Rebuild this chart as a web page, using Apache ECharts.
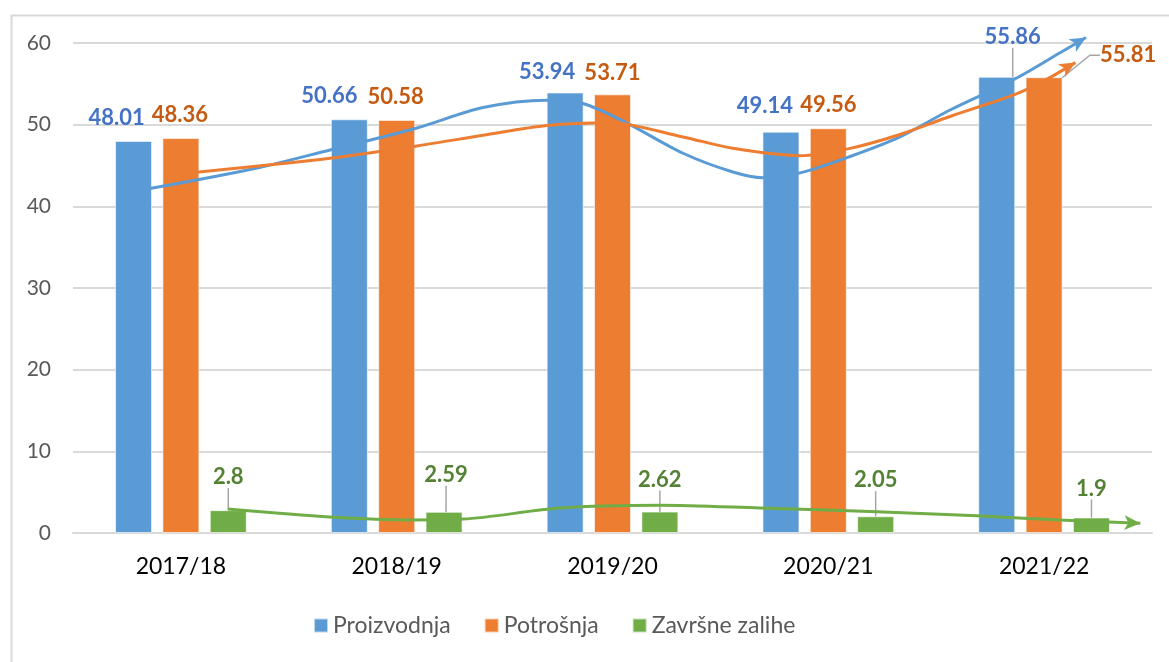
<!DOCTYPE html>
<html>
<head>
<meta charset="utf-8">
<script src="https://cdn.jsdelivr.net/npm/echarts@6/dist/echarts.min.js"></script>
<style>
html,body{margin:0;padding:0;background:#fff;}
#chart{width:1169px;height:662px;}
</style>
</head>
<body>
<div id="chart"></div>
<script>
// ---- data ----
const categories = ['2017/18', '2018/19', '2019/20', '2020/21', '2021/22'];
const seriesNames = ['Proizvodnja', 'Potrošnja', 'Završne zalihe'];
const proizvodnja = [48.01, 50.66, 53.94, 49.14, 55.86];
const potrosnja = [48.36, 50.58, 53.71, 49.56, 55.81];
const zalihe = [2.8, 2.59, 2.62, 2.05, 1.9];
const yTicks = [0, 10, 20, 30, 40, 50, 60];
// trend curves: [category position, value]
const trendProizvodnja = [[-0.222, 41.8], [0.320, 44.5], [0.691, 46.9], [1.094, 49.6], [1.400, 52.1], [1.696, 53.0], [1.863, 52.6], [2.067, 50.2], [2.327, 46.5], [2.558, 44.2], [2.697, 43.5], [2.869, 44.1], [3.101, 46.1], [3.332, 48.5], [3.564, 51.8], [3.865, 55.6], [4.074, 58.8], [4.194, 60.67]];
const trendPotrosnja = [[0.0, 44.0], [0.691, 45.9], [1.094, 47.4], [1.400, 48.7], [1.696, 49.9], [1.988, 50.25], [2.327, 48.5], [2.558, 47.1], [2.869, 46.2], [3.101, 47.1], [3.332, 48.8], [3.564, 51.0], [3.865, 53.7], [3.995, 55.3], [4.145, 57.6]];
const trendZalihe = [[0.218, 2.94], [0.691, 1.96], [1.076, 1.6], [1.307, 1.7], [1.757, 3.06], [2.220, 3.4], [2.684, 3.06], [3.226, 2.6], [3.689, 2.1], [4.074, 1.6], [4.446, 1.2]];

// ---- styling (not data) ----
const barColors = ['#5B9BD5', '#ED7D31', '#70AD47'];
const labelColors = ['#4472C4', '#C55A11', '#548235'];
const labelShift = [
  [[-17, -7], [-20, -7], [-18, -5], [-16, -10], [16, -24]],
  [[-1, -7], [-1, -7], [0, -5], [0, -7], [84, -6]],
  [[0, -17], [2, -21], [0, -16], [0, -20], [0, -13]]
];
const leaders = [
  [false, false, false, false, true],
  [false, false, false, false, true],
  [true, true, true, true, true]
];
const FONT = 'Lato, "Open Sans", "Liberation Sans", sans-serif';

const chart = echarts.init(document.getElementById('chart'), null, {renderer: 'canvas'});

function barSeries(idx, values) {
  return {
    name: seriesNames[idx],
    type: 'bar',
    barWidth: 37,
    barGap: '28%',
    itemStyle: {color: barColors[idx], borderColor: 'rgba(255,255,255,0.6)', borderWidth: 1},
    label: {
      show: true, position: 'top', distance: 5,
      color: labelColors[idx], fontSize: 22, fontWeight: 'bold', fontFamily: FONT
    },
    data: values.map((v, i) => ({
      value: v,
      label: {offset: labelShift[idx][i]},
      labelLine: {show: leaders[idx][i], length2: 10, lineStyle: {color: '#A6A6A6', width: 1.5}}
    }))
  };
}

function trendSeries(idx, pts, rot) {
  return {
    name: seriesNames[idx] + ' trend',
    type: 'line',
    xAxisIndex: 1,
    yAxisIndex: 0,
    smooth: 0.3,
    clip: false,
    symbol: 'none',
    silent: true,
    z: 5,
    lineStyle: {color: barColors[idx], width: 3},
    itemStyle: {color: barColors[idx]},
    data: pts.map((p, i) => i === pts.length - 1
      ? {value: p, symbol: 'arrow', symbolSize: [11, 16], symbolRotate: rot || 0}
      : {value: p})
  };
}

function buildOption(rots) {
  return {
    animation: false,
    backgroundColor: '#fff',
    graphic: [{
      type: 'rect', left: 9, top: 13, silent: true,
      shape: {x: 0, y: 0, width: 1200, height: 700},
      style: {fill: 'none', stroke: '#D9D9D9', lineWidth: 2}
    }],
    grid: {left: 73, right: 17, top: 43, bottom: 129},
    legend: {
      data: seriesNames,
      left: 313, top: 614, padding: 0,
      icon: 'rect', itemWidth: 14, itemHeight: 14, itemGap: 33,
      textStyle: {fontSize: 23, color: '#595959', fontFamily: FONT}
    },
    xAxis: [{
      type: 'category', data: categories,
      axisTick: {show: false},
      axisLine: {lineStyle: {color: '#D9D9D9', width: 2}},
      axisLabel: {fontSize: 23, color: '#000', fontFamily: FONT, margin: 22}
    }, {
      type: 'value', min: -0.5, max: 4.5, show: false
    }],
    yAxis: [{
      type: 'value', min: yTicks[0], max: yTicks[yTicks.length - 1], interval: yTicks[1] - yTicks[0],
      axisLine: {show: false}, axisTick: {show: false},
      splitLine: {lineStyle: {color: '#D9D9D9', width: 2}},
      axisLabel: {fontSize: 21, color: '#595959', fontFamily: FONT, margin: 22}
    }],
    series: [
      barSeries(0, proizvodnja),
      barSeries(1, potrosnja),
      barSeries(2, zalihe),
      trendSeries(0, trendProizvodnja, rots[0]),
      trendSeries(1, trendPotrosnja, rots[1]),
      trendSeries(2, trendZalihe, rots[2])
    ]
  };
}

chart.setOption(buildOption([0, 0, 0]));
// orient arrowheads along the end of each curve
const rots = [trendProizvodnja, trendPotrosnja, trendZalihe].map(pts => {
  const a = chart.convertToPixel({xAxisIndex: 1, yAxisIndex: 0}, pts[pts.length - 2]);
  const b = chart.convertToPixel({xAxisIndex: 1, yAxisIndex: 0}, pts[pts.length - 1]);
  const theta = Math.atan2(b[1] - a[1], b[0] - a[0]) * 180 / Math.PI;
  return -90 - theta;
});
chart.setOption(buildOption(rots), true);
</script>
</body>
</html>
